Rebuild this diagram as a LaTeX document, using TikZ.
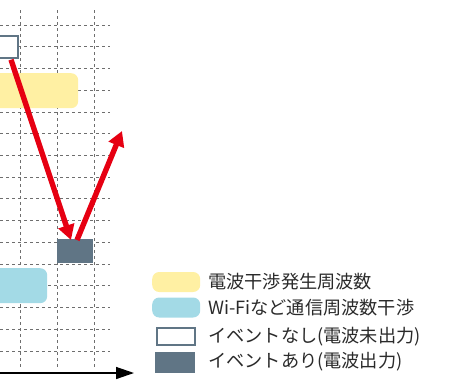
\documentclass[tikz,border=0pt]{standalone}
\usepackage{fontspec}
\newfontfamily\jpfont{Noto Sans CJK JP}
\usetikzlibrary{arrows.meta,calc}
\definecolor{gridgray}{HTML}{6E6E6E}
\definecolor{yel}{HTML}{FFF0A3}
\definecolor{blu}{HTML}{A3DAE6}
\definecolor{steel}{HTML}{607585}
\definecolor{redarrow}{HTML}{E60012}
\definecolor{txt}{HTML}{2A2A2A}
\tikzset{
  gridline/.style={draw=gridgray, line width=0.8pt, dash pattern=on 3.3pt off 2.7pt},
  yelbox/.style={fill=yel, draw=none, rounded corners=7pt, inner sep=0pt},
  blubox/.style={fill=blu, draw=none, rounded corners=7pt, inner sep=0pt},
  offbox/.style={fill=white, draw=steel, line width=2.2pt, inner sep=0pt},
  onbox/.style={fill=steel, draw=none, inner sep=0pt},
  redarr/.style={draw=redarrow, line width=5.4pt, -{Triangle[length=15pt,width=16pt]}},
  legtext/.style={anchor=west, inner sep=0pt, text=txt, font=\jpfont\fontsize{18.2}{21}\selectfont},
}
\begin{document}
\begin{tikzpicture}[x=1pt,y=-1pt]
\useasboundingbox (0,0) rectangle (452,383);
% grid
\foreach \i in {0,...,15} {
  \draw[gridline] (0,{25+21.73*\i}) -- (110,{25+21.73*\i});
}
\foreach \x in {20,57,94} {
  \draw[gridline] (\x,10) -- (\x,368);
}
% bands
\node[yelbox, minimum width=108pt, minimum height=35pt, anchor=north west] (yband) at (-30,73) {};
\node[blubox, minimum width=77pt, minimum height=35pt, anchor=north west] (bband) at (-30,268) {};
% event boxes
\node[offbox, minimum width=40pt, minimum height=22pt, anchor=north east] (off) at (19,34.5) {};
\node[onbox, minimum width=36pt, minimum height=24pt, anchor=north west] (on) at (57,239) {};
\coordinate (peak) at (122,131);
% arrows
\draw[redarr] ($(off.south east)+(-8,1)$) -- ($(on.north west)+(14,1)$);
\draw[redarr] ($(on.north west)+(20,1)$) -- (peak);
% axis
\coordinate (ax0) at (-2,373);
\coordinate (ax1) at (134,373);
\draw[line width=1.4pt, -{Triangle[length=18pt,width=12pt]}] (ax0) -- (ax1);
% legend
\node[yelbox, minimum width=48pt, minimum height=20pt, anchor=west] (l1) at (152,282) {};
\node[blubox, minimum width=48pt, minimum height=20pt, anchor=west] (l2) at (152,307.5) {};
\node[offbox, minimum width=38pt, minimum height=17pt, anchor=west] (l3) at (156,336.5) {};
\node[onbox, minimum width=40pt, minimum height=21pt, anchor=west] (l4) at (155,362.5) {};
\node[legtext] (t1) at (208,282) {電波干渉発生周波数};
\node[legtext] (t2) at (208,308) {Wi-Fiなど通信周波数干渉};
\node[legtext] (t3) at (208,337) {イベントなし(電波未出力)};
\node[legtext] (t4) at (208,362) {イベントあり(電波出力)};
\end{tikzpicture}
\end{document}
